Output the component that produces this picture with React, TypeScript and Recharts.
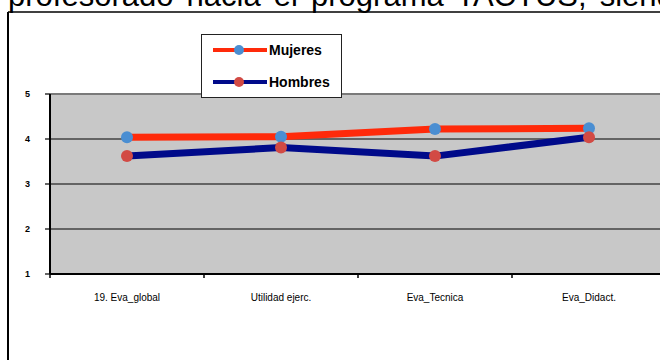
import React from "react";
import {
  LineChart,
  Line,
  XAxis,
  YAxis,
  CartesianGrid,
  ReferenceLine,
  Legend,
} from "recharts";

const categories = ["19. Eva_global", "Utilidad ejerc.", "Eva_Tecnica", "Eva_Didact."];
const mujeres = [4.04, 4.05, 4.22, 4.24];
const hombres = [3.62, 3.81, 3.62, 4.04];
const yTicks = [1, 2, 3, 4, 5];

const heading = "profesorado hacia el programa TACTUS, siendo";

const series = [
  { key: "Mujeres", values: mujeres, line: "#ff2a0a", marker: "#4a8ed2" },
  { key: "Hombres", values: hombres, line: "#000a8a", marker: "#d24a44" },
];

const data = categories.map((cat, i) => {
  const row: Record<string, string | number> = { cat };
  series.forEach((s) => {
    row[s.key] = s.values[i];
  });
  return row;
});

const FONT = "Arial, 'Liberation Sans', sans-serif";

// category label centred in its band, tick mark on the band's left edge
function CategoryTick(props: any) {
  const { x, y, payload } = props;
  const edge = x - (payload.offset ?? 0);
  return (
    <g>
      <line x1={edge} y1={y - 20} x2={edge} y2={y - 16} stroke="#000" strokeWidth={1.5} />
      <text x={x} y={y} textAnchor="middle" dy="0.71em" fontSize={10} fontFamily={FONT} fill="#000">
        {payload.value}
      </text>
    </g>
  );
}

function LegendBox(props: any) {
  const names: string[] = (props.payload || []).map((it: any) => it.value);
  const items = series.filter((s) => names.includes(s.key));
  return (
    <div
      style={{
        width: 141,
        height: 64,
        border: "1px solid #222",
        background: "#fff",
        boxSizing: "border-box",
      }}
    >
      <svg width={141} height={64} style={{ display: "block", marginLeft: -1, marginTop: -1 }}>
        {items.map((s, i) => {
          const cy = 16 + i * 32;
          return (
            <g key={s.key}>
              <line x1={12} y1={cy} x2={66} y2={cy} stroke={s.line} strokeWidth={4} />
              <circle cx={38} cy={cy} r={5} fill={s.marker} />
              <text x={68} y={cy + 5} fontSize={14} fontWeight="bold" fontFamily={FONT} fill="#000">
                {s.key}
              </text>
            </g>
          );
        })}
      </svg>
    </div>
  );
}

export default function App() {
  return (
    <div
      style={{
        position: "absolute",
        left: 0,
        top: 0,
        width: 660,
        height: 360,
        overflow: "hidden",
        background: "#fff",
      }}
    >
      <svg width={660} height={360} style={{ position: "absolute", left: 0, top: 0 }}>
        <text x={8} y={5.5} fontSize={31} fontFamily={FONT} wordSpacing={4.5} fill="#000">
          {heading}
        </text>
        <line x1={8} y1={12} x2={660} y2={12} stroke="#000" strokeWidth={1.5} />
        <line x1={8} y1={12} x2={8} y2={360} stroke="#000" strokeWidth={2} />
      </svg>
      <div style={{ position: "absolute", left: 0, top: 0 }}>
        <LineChart
          width={680}
          height={360}
          data={data}
          margin={{ top: 94, right: 14, bottom: 56, left: 0 }}
        >
          <CartesianGrid vertical={false} stroke="#000" strokeWidth={1.2} fill="#c8c8c8" />
          <ReferenceLine y={5} stroke="#7a7a7a" strokeWidth={2} />
          <XAxis
            dataKey="cat"
            scale="band"
            height={30}
            tickLine={false}
            tickSize={4}
            tickMargin={16}
            tick={<CategoryTick />}
            axisLine={{ stroke: "#000", strokeWidth: 2 }}
            interval={0}
          />
          <YAxis
            type="number"
            domain={[1, 5]}
            ticks={yTicks}
            width={50}
            tickSize={5}
            tickMargin={15}
            tickLine={{ stroke: "#000", strokeWidth: 1.2 }}
            axisLine={{ stroke: "#000", strokeWidth: 2 }}
            tick={{ fontSize: 9, fontWeight: "bold", fill: "#000", fontFamily: FONT }}
          />
          <Legend
            layout="horizontal"
            verticalAlign="middle"
            wrapperStyle={{ left: 201, top: 34, width: 141, height: 64 }}
            content={<LegendBox />}
          />
          {series.map((s) => (
            <Line
              key={s.key}
              type="linear"
              dataKey={s.key}
              stroke={s.line}
              strokeWidth={7}
              dot={{ r: 6, fill: s.marker, stroke: "none" }}
              activeDot={false}
              isAnimationActive={false}
            />
          ))}
        </LineChart>
      </div>
    </div>
  );
}
